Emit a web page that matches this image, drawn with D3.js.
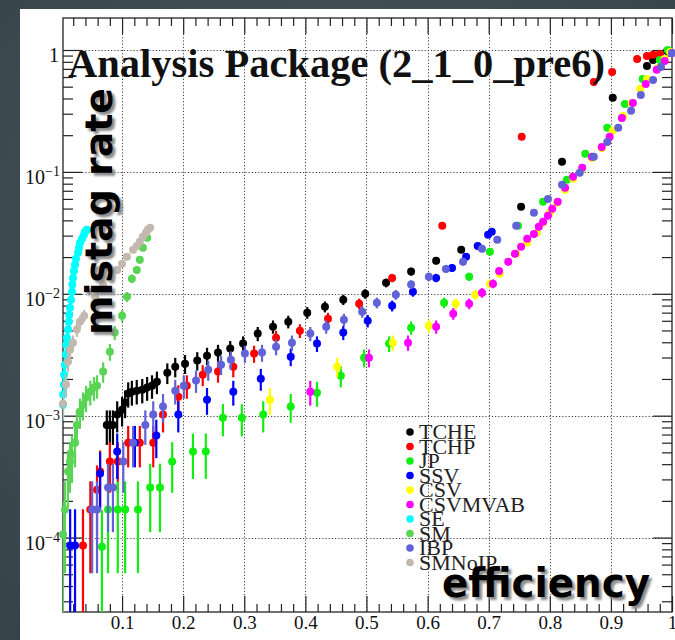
<!DOCTYPE html>
<html>
<head>
<meta charset="utf-8">
<script src="https://cdn.jsdelivr.net/npm/d3@7"></script>
<style>
html, body { margin: 0; padding: 0; background: #3e4b51; }
svg { display: block; }
</style>
</head>
<body>
<svg id="chart"></svg>
<script>
// [efficiency, mistag rate]
const tche = [[0.075, 8.4e-4], [0.080, 8.4e-4], [0.085, 8.4e-4], [0.092, 1.02e-3], [0.100, 1.12e-3], [0.105, 1.28e-3],
    [0.110, 1.52e-3], [0.116, 1.57e-3], [0.124, 1.60e-3], [0.133, 1.63e-3], [0.141, 1.70e-3], [0.149, 1.76e-3],
    [0.157, 1.90e-3], [0.174, 2.25e-3], [0.187, 2.52e-3], [0.203, 2.67e-3], [0.223, 2.83e-3], [0.239, 3.10e-3],
    [0.257, 3.29e-3], [0.277, 3.55e-3], [0.298, 3.90e-3], [0.322, 4.71e-3], [0.347, 5.37e-3], [0.372, 5.90e-3],
    [0.403, 7.00e-3], [0.432, 7.84e-3], [0.462, 8.94e-3], [0.498, 1.00e-2], [0.532, 1.23e-2], [0.573, 1.52e-2],
    [0.614, 1.87e-2], [0.655, 2.30e-2], [0.753, 5.17e-2], [0.820, 0.121], [0.903, 0.405], [0.959, 0.740],
    [0.969, 0.829], [0.980, 0.912], [0.992, 0.983]];
const tchp = [[0.036, 8.6e-5], [0.048, 1.70e-4], [0.059, 2.47e-4], [0.064, 3.48e-4], [0.080, 4.20e-4], [0.093, 4.20e-4],
    [0.110, 6.0e-4], [0.129, 6.0e-4], [0.151, 6.0e-4], [0.167, 1.02e-3], [0.192, 1.43e-3], [0.206, 1.76e-3],
    [0.232, 2.17e-3], [0.257, 2.30e-3], [0.282, 2.52e-3], [0.316, 3.23e-3], [0.352, 4.36e-3], [0.391, 4.98e-3],
    [0.437, 6.25e-3], [0.488, 8.29e-3], [0.542, 1.35e-2], [0.624, 3.61e-2], [0.754, 0.194], [0.872, 0.547],
    [0.902, 0.661], [0.943, 0.845], [0.959, 0.894], [0.969, 0.912], [0.980, 0.929]];
const jp = [[0.067, 8.4e-5], [0.077, 1.70e-4], [0.093, 1.70e-4], [0.105, 1.70e-4], [0.126, 1.70e-4], [0.146, 2.57e-4],
    [0.162, 2.57e-4], [0.182, 4.20e-4], [0.216, 5.08e-4], [0.237, 5.08e-4], [0.265, 9.6e-4], [0.296, 9.6e-4],
    [0.331, 1.02e-3], [0.376, 1.19e-3], [0.419, 1.54e-3], [0.458, 2.13e-3], [0.496, 2.99e-3], [0.537, 3.90e-3],
    [0.573, 5.27e-3], [0.627, 8.45e-3], [0.668, 1.38e-2], [0.702, 2.21e-2], [0.748, 3.61e-2], [0.789, 5.68e-2],
    [0.828, 8.61e-2], [0.858, 0.141], [0.894, 0.230], [0.923, 0.361], [0.952, 0.579], [0.980, 0.829], [0.993, 1.0]];
const ssv = [[0.015, 8.6e-5], [0.023, 8.6e-5], [0.064, 3.35e-4], [0.092, 5.08e-4], [0.121, 6.0e-4], [0.156, 6.87e-4],
    [0.192, 1.02e-3], [0.239, 1.35e-3], [0.282, 1.57e-3], [0.327, 2.01e-3], [0.376, 3.05e-3], [0.419, 3.90e-3],
    [0.462, 4.80e-3], [0.502, 6.0e-3], [0.542, 7.98e-3], [0.576, 1.04e-2], [0.614, 1.35e-2], [0.640, 1.63e-2],
    [0.663, 2.01e-2], [0.682, 2.47e-2], [0.699, 3.05e-2], [0.705, 3.23e-2]];
const csv = [[0.342, 1.35e-3], [0.452, 2.52e-3], [0.543, 3.97e-3], [0.602, 5.47e-3], [0.646, 8.29e-3], [0.678, 9.83e-3],
    [0.702, 1.21e-2], [0.718, 1.46e-2], [0.745, 2.13e-2], [0.763, 2.62e-2], [0.779, 3.17e-2], [0.789, 3.82e-2],
    [0.800, 4.62e-2], [0.812, 5.58e-2], [0.825, 7.13e-2], [0.838, 8.77e-2], [0.853, 0.106], [0.869, 0.130],
    [0.885, 0.157], [0.903, 0.217], [0.920, 0.288], [0.934, 0.368], [0.948, 0.480], [0.959, 0.579], [0.977, 0.713],
    [0.988, 0.845], [0.997, 0.964]];
const csvmvab = [[0.408, 1.57e-3], [0.504, 2.99e-3], [0.568, 3.97e-3], [0.614, 5.37e-3], [0.642, 6.87e-3], [0.668, 8.29e-3],
    [0.689, 1.02e-2], [0.707, 1.21e-2], [0.717, 1.54e-2], [0.732, 1.83e-2], [0.743, 2.13e-2], [0.753, 2.43e-2],
    [0.763, 2.83e-2], [0.774, 3.10e-2], [0.782, 3.55e-2], [0.789, 3.90e-2], [0.797, 4.36e-2], [0.804, 4.98e-2],
    [0.813, 5.68e-2], [0.825, 7.40e-2], [0.838, 9.12e-2], [0.853, 0.108], [0.869, 0.133], [0.885, 0.160],
    [0.898, 0.194], [0.918, 0.277], [0.936, 0.368], [0.957, 0.527], [0.975, 0.687], [0.988, 0.814], [1.0, 0.946]];
const se = [[0.0033, 1.23e-3], [0.0035, 1.49e-3], [0.0049, 1.80e-3], [0.0052, 2.17e-3], [0.0065, 2.62e-3], [0.0080, 3.17e-3],
    [0.0085, 3.82e-3], [0.0098, 4.36e-3], [0.0115, 5.08e-3], [0.0128, 5.90e-3], [0.0135, 6.74e-3], [0.0147, 7.69e-3],
    [0.0164, 8.94e-3], [0.0180, 1.04e-2], [0.0185, 1.19e-2], [0.0196, 1.35e-2], [0.0213, 1.54e-2], [0.0229, 1.73e-2],
    [0.0245, 1.94e-2], [0.0278, 2.17e-2], [0.0295, 2.38e-2], [0.0311, 2.62e-2], [0.0344, 2.83e-2], [0.0376, 3.05e-2],
    [0.0393, 3.23e-2], [0.0425, 3.35e-2]];
const sm = [[0.0033, 1.06e-4], [0.0065, 1.70e-4], [0.0115, 3.48e-4], [0.0147, 4.20e-4], [0.018, 4.80e-4], [0.023, 6.0e-4],
    [0.026, 8.4e-4], [0.031, 1.08e-3], [0.036, 1.23e-3], [0.041, 1.41e-3], [0.048, 1.57e-3], [0.054, 1.70e-3],
    [0.059, 1.76e-3], [0.069, 2.30e-3], [0.080, 3.35e-3], [0.088, 4.80e-3], [0.100, 6.61e-3], [0.108, 9.46e-3],
    [0.116, 1.33e-2], [0.124, 1.57e-2], [0.129, 1.90e-2], [0.134, 2.38e-2], [0.141, 2.88e-2]];
const ibp = [[0.051, 1.70e-4], [0.059, 1.70e-4], [0.077, 2.57e-4], [0.085, 2.57e-4], [0.102, 4.20e-4], [0.118, 6.0e-4],
    [0.138, 8.4e-4], [0.151, 1.02e-3], [0.167, 1.19e-3], [0.187, 1.60e-3], [0.201, 1.76e-3], [0.221, 1.94e-3],
    [0.241, 2.38e-3], [0.262, 2.62e-3], [0.278, 2.88e-3], [0.301, 3.23e-3], [0.329, 3.29e-3], [0.352, 3.68e-3],
    [0.378, 3.97e-3], [0.408, 4.71e-3], [0.434, 5.37e-3], [0.463, 6.13e-3], [0.493, 7.13e-3], [0.517, 8.45e-3],
    [0.548, 9.83e-3], [0.573, 1.19e-2], [0.602, 1.38e-2], [0.630, 1.60e-2], [0.658, 1.83e-2], [0.689, 2.34e-2],
    [0.714, 2.77e-2], [0.745, 3.61e-2], [0.774, 4.62e-2], [0.797, 6.0e-2], [0.820, 7.84e-2], [0.849, 9.83e-2],
    [0.872, 0.133], [0.894, 0.176], [0.912, 0.230], [0.933, 0.317], [0.949, 0.428], [0.969, 0.568], [0.982, 0.726],
    [1.0, 0.946]];
const smnoip = [[0.0033, 1.25e-3], [0.0082, 1.80e-3], [0.0115, 2.77e-3], [0.0147, 3.48e-3], [0.0196, 3.97e-3], [0.026, 5.08e-3],
    [0.031, 5.90e-3], [0.038, 6.61e-3], [0.056, 9.46e-3], [0.069, 1.19e-2], [0.080, 1.35e-2], [0.092, 1.57e-2],
    [0.100, 1.76e-2], [0.108, 2.01e-2], [0.118, 2.30e-2], [0.124, 2.47e-2], [0.129, 2.67e-2], [0.134, 2.93e-2],
    [0.139, 3.17e-2], [0.142, 3.35e-2], [0.146, 3.48e-2]];

const names = ['TCHE', 'TCHP', 'JP', 'SSV', 'CSV', 'CSVMVAB', 'SE', 'SM', 'IBP', 'SMNoIP'];
const seriesData = [tche, tchp, jp, ssv, csv, csvmvab, se, sm, ibp, smnoip];
const colors = ['#000000', '#ff0000', '#11ee11', '#0000ff', '#ffff00', '#ff00ff', '#00ffff', '#59d454', '#6262d8', '#c2b8ae'];

const xTicks = [0.1, 0.2, 0.3, 0.4, 0.5, 0.6, 0.7, 0.8, 0.9, 1];
const yDecades = [1e-4, 1e-3, 1e-2, 1e-1, 1];
const yTickLabels = ['10|-4', '10|-3', '10|-2', '10|-1', '1'];

// light-jet sample size, used for the binomial error bars
const nLightJets = 12000;

const width = 675;
const height = 640;
const frame = { left: 63, right: 672, top: 18, bottom: 612 };

const svg = d3.select('#chart')
    .attr('width', width)
    .attr('height', height);

const defs = svg.append('defs');
const bgGrad = defs.append('radialGradient')
    .attr('id', 'slide-bg')
    .attr('cx', '50%').attr('cy', '40%').attr('r', '75%');
bgGrad.append('stop').attr('offset', '0%').attr('stop-color', '#4a585e');
bgGrad.append('stop').attr('offset', '100%').attr('stop-color', '#36434a');

svg.append('rect')
    .attr('width', width)
    .attr('height', height)
    .attr('fill', 'url(#slide-bg)');

svg.append('rect')
    .attr('x', 20)
    .attr('y', 9)
    .attr('width', width - 20)
    .attr('height', height - 9)
    .attr('fill', 'white');

const xScale = d3.scaleLinear()
    .domain([0.0033, 1])
    .range([frame.left, frame.right]);

const yScale = d3.scaleLog()
    .domain([2.45e-5, 1.83])
    .range([frame.bottom, frame.top]);

const xMinor = d3.range(1, 51).map(i => i * 0.02).filter(v => Math.abs(v * 10 - Math.round(v * 10)) > 1e-6);
const yMinor = [];
[-5, -4, -3, -2, -1, 0].forEach(k => {
    for (let m = 2; m <= 9; m++) {
        const v = m * Math.pow(10, k);
        if (v > 2.45e-5 && v < 1.83) yMinor.push(v);
    }
});

// grid
const grid = svg.append('g')
    .attr('stroke', '#444')
    .attr('stroke-width', 1)
    .attr('stroke-dasharray', '1.2,2');

grid.selectAll('.gx')
    .data(xTicks.filter(d => d < 1))
    .enter()
    .append('line')
    .attr('x1', d => Math.round(xScale(d)) + 0.5)
    .attr('x2', d => Math.round(xScale(d)) + 0.5)
    .attr('y1', frame.top)
    .attr('y2', frame.bottom);

grid.selectAll('.gy')
    .data(yDecades)
    .enter()
    .append('line')
    .attr('x1', frame.left)
    .attr('x2', frame.right)
    .attr('y1', d => Math.round(yScale(d)) + 0.5)
    .attr('y2', d => Math.round(yScale(d)) + 0.5);

// axes with ROOT style ticks on all four sides
function styleAxis(g) {
    g.select('.domain').remove();
    g.selectAll('line').attr('stroke', '#222').attr('stroke-width', 1.2);
}

svg.append('g')
    .attr('transform', `translate(0, ${frame.bottom})`)
    .call(d3.axisBottom(xScale).tickValues(xTicks).tickSize(-16).tickPadding(3).tickFormat(d3.format('')))
    .call(styleAxis)
    .selectAll('text')
    .attr('font-family', 'Liberation Serif')
    .attr('font-size', 19)
    .attr('fill', '#111');

svg.append('g')
    .attr('transform', `translate(0, ${frame.bottom})`)
    .call(d3.axisBottom(xScale).tickValues(xMinor).tickSize(-8).tickFormat(''))
    .call(styleAxis);

svg.append('g')
    .attr('transform', `translate(0, ${frame.top})`)
    .call(d3.axisTop(xScale).tickValues(xTicks).tickSize(-16).tickFormat(''))
    .call(styleAxis);

svg.append('g')
    .attr('transform', `translate(0, ${frame.top})`)
    .call(d3.axisTop(xScale).tickValues(xMinor).tickSize(-8).tickFormat(''))
    .call(styleAxis);

svg.append('g')
    .attr('transform', `translate(${frame.left}, 0)`)
    .call(d3.axisLeft(yScale).tickValues(yDecades).tickSize(-19).tickFormat(''))
    .call(styleAxis);

svg.append('g')
    .attr('transform', `translate(${frame.left}, 0)`)
    .call(d3.axisLeft(yScale).tickValues(yMinor).tickSize(-10).tickFormat(''))
    .call(styleAxis);

svg.append('g')
    .attr('transform', `translate(${frame.right}, 0)`)
    .call(d3.axisRight(yScale).tickValues(yDecades).tickSize(-19).tickFormat(''))
    .call(styleAxis);

svg.append('g')
    .attr('transform', `translate(${frame.right}, 0)`)
    .call(d3.axisRight(yScale).tickValues(yMinor).tickSize(-10).tickFormat(''))
    .call(styleAxis);

// y labels: 10 with superscript exponent
const yLab = svg.append('g')
    .attr('font-family', 'Liberation Serif')
    .attr('fill', '#111');

yDecades.forEach((d, i) => {
    const parts = yTickLabels[i].split('|');
    const t = yLab.append('text')
        .attr('x', parts.length > 1 ? 25 : 49)
        .attr('y', yScale(d) + 12)
        .attr('font-size', 20);
    t.append('tspan').text(parts[0]);
    if (parts.length > 1) {
        t.append('tspan')
            .attr('font-size', 14)
            .attr('dy', -8)
            .text(parts[1].replace('-', '\u2212'));
    }
});

// frame
svg.append('rect')
    .attr('x', frame.left)
    .attr('y', frame.top)
    .attr('width', frame.right - frame.left)
    .attr('height', frame.bottom - frame.top)
    .attr('fill', 'none')
    .attr('stroke', '#222')
    .attr('stroke-width', 1.3);

svg.append('clipPath')
    .attr('id', 'frame-clip')
    .append('rect')
    .attr('x', frame.left)
    .attr('y', frame.top)
    .attr('width', frame.right - frame.left)
    .attr('height', frame.bottom - frame.top);

// points with error bars
const yMin = yScale.domain()[0];
seriesData.forEach((data, i) => {
    const g = svg.append('g').attr('class', 'series').attr('data-name', names[i]);
    g.append('g')
        .attr('clip-path', 'url(#frame-clip)')
        .selectAll('line')
        .data(data)
        .enter()
        .append('line')
        .attr('x1', d => xScale(d[0]))
        .attr('x2', d => xScale(d[0]))
        .attr('y1', d => yScale(Math.max(d[1] - Math.sqrt(d[1] / nLightJets), yMin)))
        .attr('y2', d => yScale(d[1] + Math.sqrt(d[1] / nLightJets)))
        .attr('stroke', colors[i])
        .attr('stroke-width', 2.2);
    g.selectAll('circle')
        .data(data)
        .enter()
        .append('circle')
        .attr('cx', d => xScale(d[0]))
        .attr('cy', d => yScale(d[1]))
        .attr('r', 4)
        .attr('fill', colors[i]);
});

// title
svg.append('text')
    .attr('x', 68)
    .attr('y', 77)
    .attr('font-family', 'Liberation Serif')
    .attr('font-weight', 'bold')
    .attr('font-size', 40.5)
    .attr('fill', '#111')
    .text('Analysis Package (2_1_0_pre6)');

// legend
const legend = svg.append('g');
names.forEach((name, i) => {
    const ly = 432 + i * 14.5;
    legend.append('circle')
        .attr('cx', 410)
        .attr('cy', ly)
        .attr('r', 3.8)
        .attr('fill', colors[i]);
    legend.append('text')
        .attr('x', 419)
        .attr('y', ly + 7)
        .attr('font-family', 'Liberation Serif')
        .attr('font-size', 22)
        .attr('fill', '#222')
        .text(name);
});

// slide axis titles with drop shadow
defs.append('filter')
    .attr('id', 'soft')
    .append('feGaussianBlur')
    .attr('stdDeviation', 1.2);

function shadowText(txt, tx, ty, rot, size, len) {
    [['#8c8c8c', 3, 3, 'url(#soft)'], ['#000', 0, 0, null]].forEach(([fill, dx, dy, filt]) => {
        svg.append('text')
            .attr('transform', `translate(${tx + dx}, ${ty + dy}) rotate(${rot})`)
            .attr('font-family', 'DejaVu Sans')
            .attr('font-weight', 'bold')
            .attr('font-size', size)
            .attr('textLength', len)
            .attr('lengthAdjust', 'spacingAndGlyphs')
            .attr('fill', fill)
            .attr('filter', filt)
            .text(txt);
    });
}

shadowText('mistag rate', 112, 335, -90, 38, 247);
shadowText('efficiency', 442, 597, 0, 40, 208);
</script>
</body>
</html>
